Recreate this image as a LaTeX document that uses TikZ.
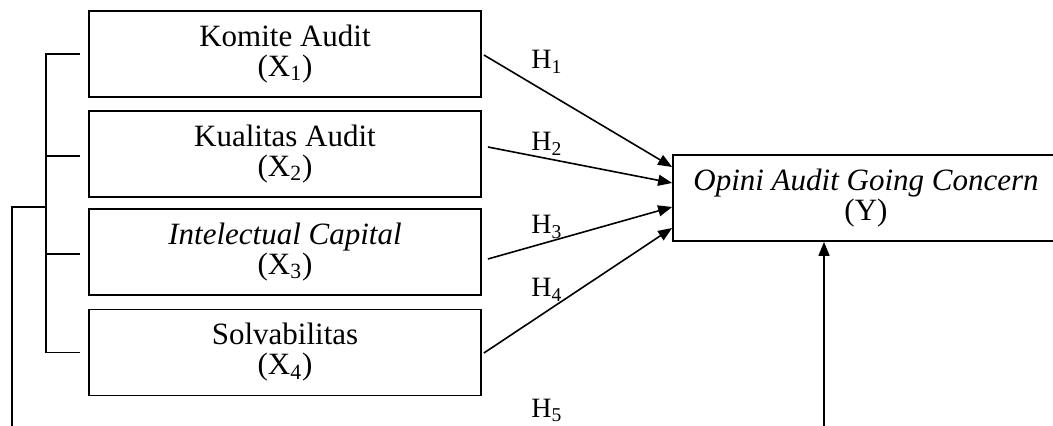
\documentclass[tikz,border=0pt]{standalone}
\usepackage{fontspec}
\setmainfont{Liberation Serif}
\usetikzlibrary{arrows.meta,calc}
\begin{document}
\begin{tikzpicture}[x=0.5pt,y=-0.5pt,
  box/.style={draw,line width=0.9pt,minimum width=196pt,minimum height=43pt,inner sep=0pt,align=center,font=\fontsize{15.5}{15}\selectfont},
  ybox/.style={draw,line width=0.9pt,minimum width=193pt,minimum height=43pt,inner sep=0pt,align=center,font=\fontsize{15.5}{15}\selectfont},
  conn/.style={line width=0.8pt},
  arr/.style={line width=0.8pt,-{Triangle[length=7pt,width=5.5pt]}},
  hlab/.style={anchor=base west,inner sep=0pt,font=\fontsize{14}{14}\selectfont}]
\clip (0,0) rectangle (1053,426);
\fill[white] (0,0) rectangle (1053,426);

\node[box] (k1) at (285,54) {Komite Audit\\(X\textsubscript{1})};
\node[box] (k2) at (285,154) {Kualitas Audit\\(X\textsubscript{2})};
\node[box] (k3) at (285,252) {\textit{Intelectual Capital}\\(X\textsubscript{3})};
\node[box] (k4) at (285,352.5) {Solvabilitas\\(X\textsubscript{4})};
\node[ybox] (y) at (866,198) {\textit{Opini Audit Going Concern}\\(Y)};

\node[hlab] (h1) at (531,69) {H\textsubscript{1}};
\node[hlab] (h2) at (531,151) {H\textsubscript{2}};
\node[hlab] (h3) at (531,234) {H\textsubscript{3}};
\node[hlab] (h4) at (531,297) {H\textsubscript{4}};
\node[hlab] (h5) at (531,417) {H\textsubscript{5}};

% arrow end points
\coordinate (s1) at ($(k1.east)+(2,1)$);
\coordinate (s2) at ($(k2.east)+(6,-7)$);
\coordinate (s3) at ($(k3.east)+(6,7)$);
\coordinate (s4) at ($(k4.east)+(2,0.5)$);
\coordinate (t1) at ($(y.west)+(0,-31)$);
\coordinate (t2) at ($(y.west)+(0,-15)$);
\coordinate (t3) at ($(y.west)+(0,9)$);
\coordinate (t4) at ($(y.west)+(0,30)$);
\draw[arr] (s1) -- (t1);
\draw[arr] (s2) -- (t2);
\draw[arr] (s3) -- (t3);
\draw[arr] (s4) -- (t4);

\coordinate (b) at (824,432);
\draw[arr] (b) -- (b |- y.south);

% bracket
\coordinate (bx) at (46,0);
\coordinate (lx) at (12,207);
\coordinate (lb) at (12,432);
\draw[conn] ($(k1.west)+(-8,0)$) -- (k1.west -| bx) -- (k4.west -| bx) -- ($(k4.west)+(-8,0)$);
\draw[conn] ($(k2.west)+(-8,2)$) -- ($(k2.west -| bx)+(0,2)$);
\draw[conn] ($(k3.west)+(-8,2)$) -- ($(k3.west -| bx)+(0,2)$);
\draw[conn] (bx |- lx) -- (lx) -- (lb);
\end{tikzpicture}
\end{document}
